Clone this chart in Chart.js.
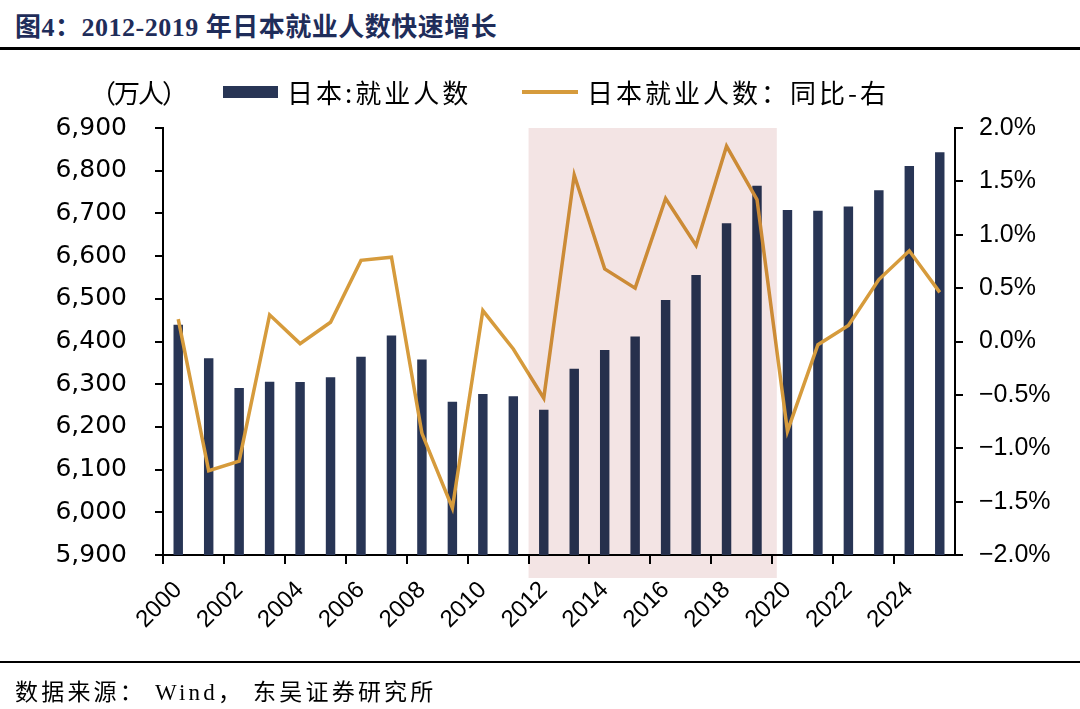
<!DOCTYPE html>
<html>
<head>
<meta charset="utf-8">
<script src="https://cdn.jsdelivr.net/npm/chart.js@4"></script>
<style>
  html, body { margin: 0; padding: 0; background: #fff; }
  #wrap { position: relative; width: 1080px; height: 709px; overflow: hidden; }
  #chart { position: absolute; left: 0; top: 0; }
  .title { position: absolute; left: 15px; top: 6px; font: bold 26px 'Liberation Serif', 'Noto Sans CJK SC', serif; color: #1f2d5a; white-space: nowrap; letter-spacing: 0.5px; }
  .rule-top { position: absolute; left: 0; top: 47px; width: 1080px; height: 3px; background: #000; }
  .rule-bot { position: absolute; left: 0; top: 661px; width: 1080px; height: 2px; background: #000; }
  .source { position: absolute; left: 15px; top: 673px; font: 23px 'Liberation Serif', 'Noto Sans CJK SC', serif; color: #000; white-space: nowrap; letter-spacing: 3.2px; }
  .lg { position: absolute; font: 26px 'Noto Sans CJK SC', sans-serif; color: #000; white-space: nowrap; line-height: 30px; top: 77px; letter-spacing: 3px; }
  .unit { left: 90px; letter-spacing: -2px; }
  .box { position: absolute; left: 223px; top: 86px; width: 55px; height: 12px; background: #283555; }
  .ln { position: absolute; left: 522px; top: 90px; width: 56px; height: 4px; background: #d69b3c; }
</style>
</head>
<body>
<div id="wrap">
  <div class="title">图4：2012-2019 年日本就业人数快速增长</div>
  <div class="rule-top"></div>
  <canvas id="chart" width="1080" height="709"></canvas>
  <div class="lg unit">（万人）</div>
  <div class="box"></div>
  <div class="lg" style="left:287px">日本:就业人数</div>
  <div class="ln"></div>
  <div class="lg" style="left:587px">日本就业人数：同比-右</div>
  <div class="rule-bot"></div>
  <div class="source">数据来源： Wind， 东吴证券研究所</div>
</div>
<script>
// Categories
const years = ['2000','2001','2002','2003','2004','2005','2006','2007','2008','2009',
               '2010','2011','2012','2013','2014','2015','2016','2017','2018','2019',
               '2020','2021','2022','2023','2024','2025'];

// 日本:就业人数 (万人)
const employed = [6439, 6361, 6291, 6306, 6305, 6316, 6364, 6414, 6358, 6259,
                  6277, 6272, 6240, 6336, 6380, 6412, 6497, 6556, 6677, 6765,
                  6708, 6706, 6716, 6754, 6811, 6843];

// 日本就业人数：同比 (%)
const yoy = [0.21, -1.21, -1.12, 0.25, -0.02, 0.18, 0.76, 0.79, -0.86, -1.56,
             0.29, -0.07, -0.53, 1.56, 0.68, 0.50, 1.34, 0.90, 1.83, 1.33,
             -0.84, -0.03, 0.15, 0.58, 0.85, 0.46];

// Highlighted period: 2012 through 2019
const shadeFrom = '2012';
const shadeTo = '2019';

const NAVY = '#283555';
const GOLD = '#d69b3c';

// Pink band over 2012-2019, multiplied onto the bars and line
const shadePlugin = {
    id: 'shade',
    afterDatasetsDraw(chart) {
        const x = chart.scales.x;
        const area = chart.chartArea;
        const step = x.getPixelForValue(1) - x.getPixelForValue(0);
        const i0 = years.indexOf(shadeFrom);
        const i1 = years.indexOf(shadeTo);
        const left = x.getPixelForValue(i0) - step / 2;
        const right = x.getPixelForValue(i1) + step * 0.65;
        const c = chart.ctx;
        c.save();
        c.globalCompositeOperation = 'multiply';
        c.fillStyle = '#f3e4e4';
        c.fillRect(left, area.top, right - left, area.bottom - area.top + 23);
        c.restore();
    }
};

const ctx = document.getElementById('chart');
new Chart(ctx, {
    type: 'bar',
    data: {
        labels: years,
        datasets: [
            {
                type: 'line',
                label: '日本就业人数：同比-右',
                data: yoy,
                yAxisID: 'y1',
                borderColor: GOLD,
                backgroundColor: GOLD,
                borderWidth: 3.5,
                pointRadius: 0,
                tension: 0,
                order: 0
            },
            {
                label: '日本:就业人数',
                data: employed,
                yAxisID: 'y',
                backgroundColor: NAVY,
                barPercentage: 0.62,
                categoryPercentage: 0.5,
                order: 1
            }
        ]
    },
    options: {
        responsive: false,
        animation: false,
        layout: { padding: { top: 128, left: 0, right: 0, bottom: 0 } },
        plugins: {
            legend: { display: false },
            tooltip: { enabled: false }
        },
        scales: {
            x: {
                offset: true,
                afterFit: (s) => { s.height = 154; },
                border: { display: true, color: '#000', width: 2 },
                grid: {
                    offset: true,
                    drawOnChartArea: false,
                    tickLength: 9,
                    lineWidth: 2,
                    color: (c) => (c.index % 2 === 0 ? '#000' : 'rgba(0,0,0,0)')
                },
                ticks: {
                    autoSkip: false,
                    maxRotation: 45,
                    minRotation: 45,
                    padding: 12,
                    color: '#000',
                    font: { family: "'Liberation Sans', Arial, sans-serif", size: 24 },
                    callback: (v, i) => (i % 2 === 0 ? years[i] : '')
                }
            },
            y: {
                position: 'left',
                min: 5900,
                max: 6900,
                afterFit: (s) => { s.width = 163; },
                border: { display: true, color: '#000', width: 2 },
                grid: { drawOnChartArea: false, tickLength: 8, lineWidth: 2, color: '#000' },
                ticks: {
                    stepSize: 100,
                    padding: 28,
                    color: '#000',
                    font: { family: "'DejaVu Sans', sans-serif", size: 25 },
                    callback: (v) => v.toLocaleString('en-US')
                }
            },
            y1: {
                position: 'right',
                min: -2,
                max: 2,
                afterFit: (s) => { s.width = 125; },
                border: { display: true, color: '#000', width: 2 },
                grid: { drawOnChartArea: false, tickLength: 8, lineWidth: 2, color: '#000' },
                ticks: {
                    stepSize: 0.5,
                    padding: 16,
                    color: '#000',
                    font: { family: "'Liberation Sans', Arial, sans-serif", size: 25 },
                    callback: (v) => (v < 0 ? '\u2212' : '') + Math.abs(v).toFixed(1) + '%'
                }
            }
        }
    },
    plugins: [shadePlugin]
});
</script>
</body>
</html>
